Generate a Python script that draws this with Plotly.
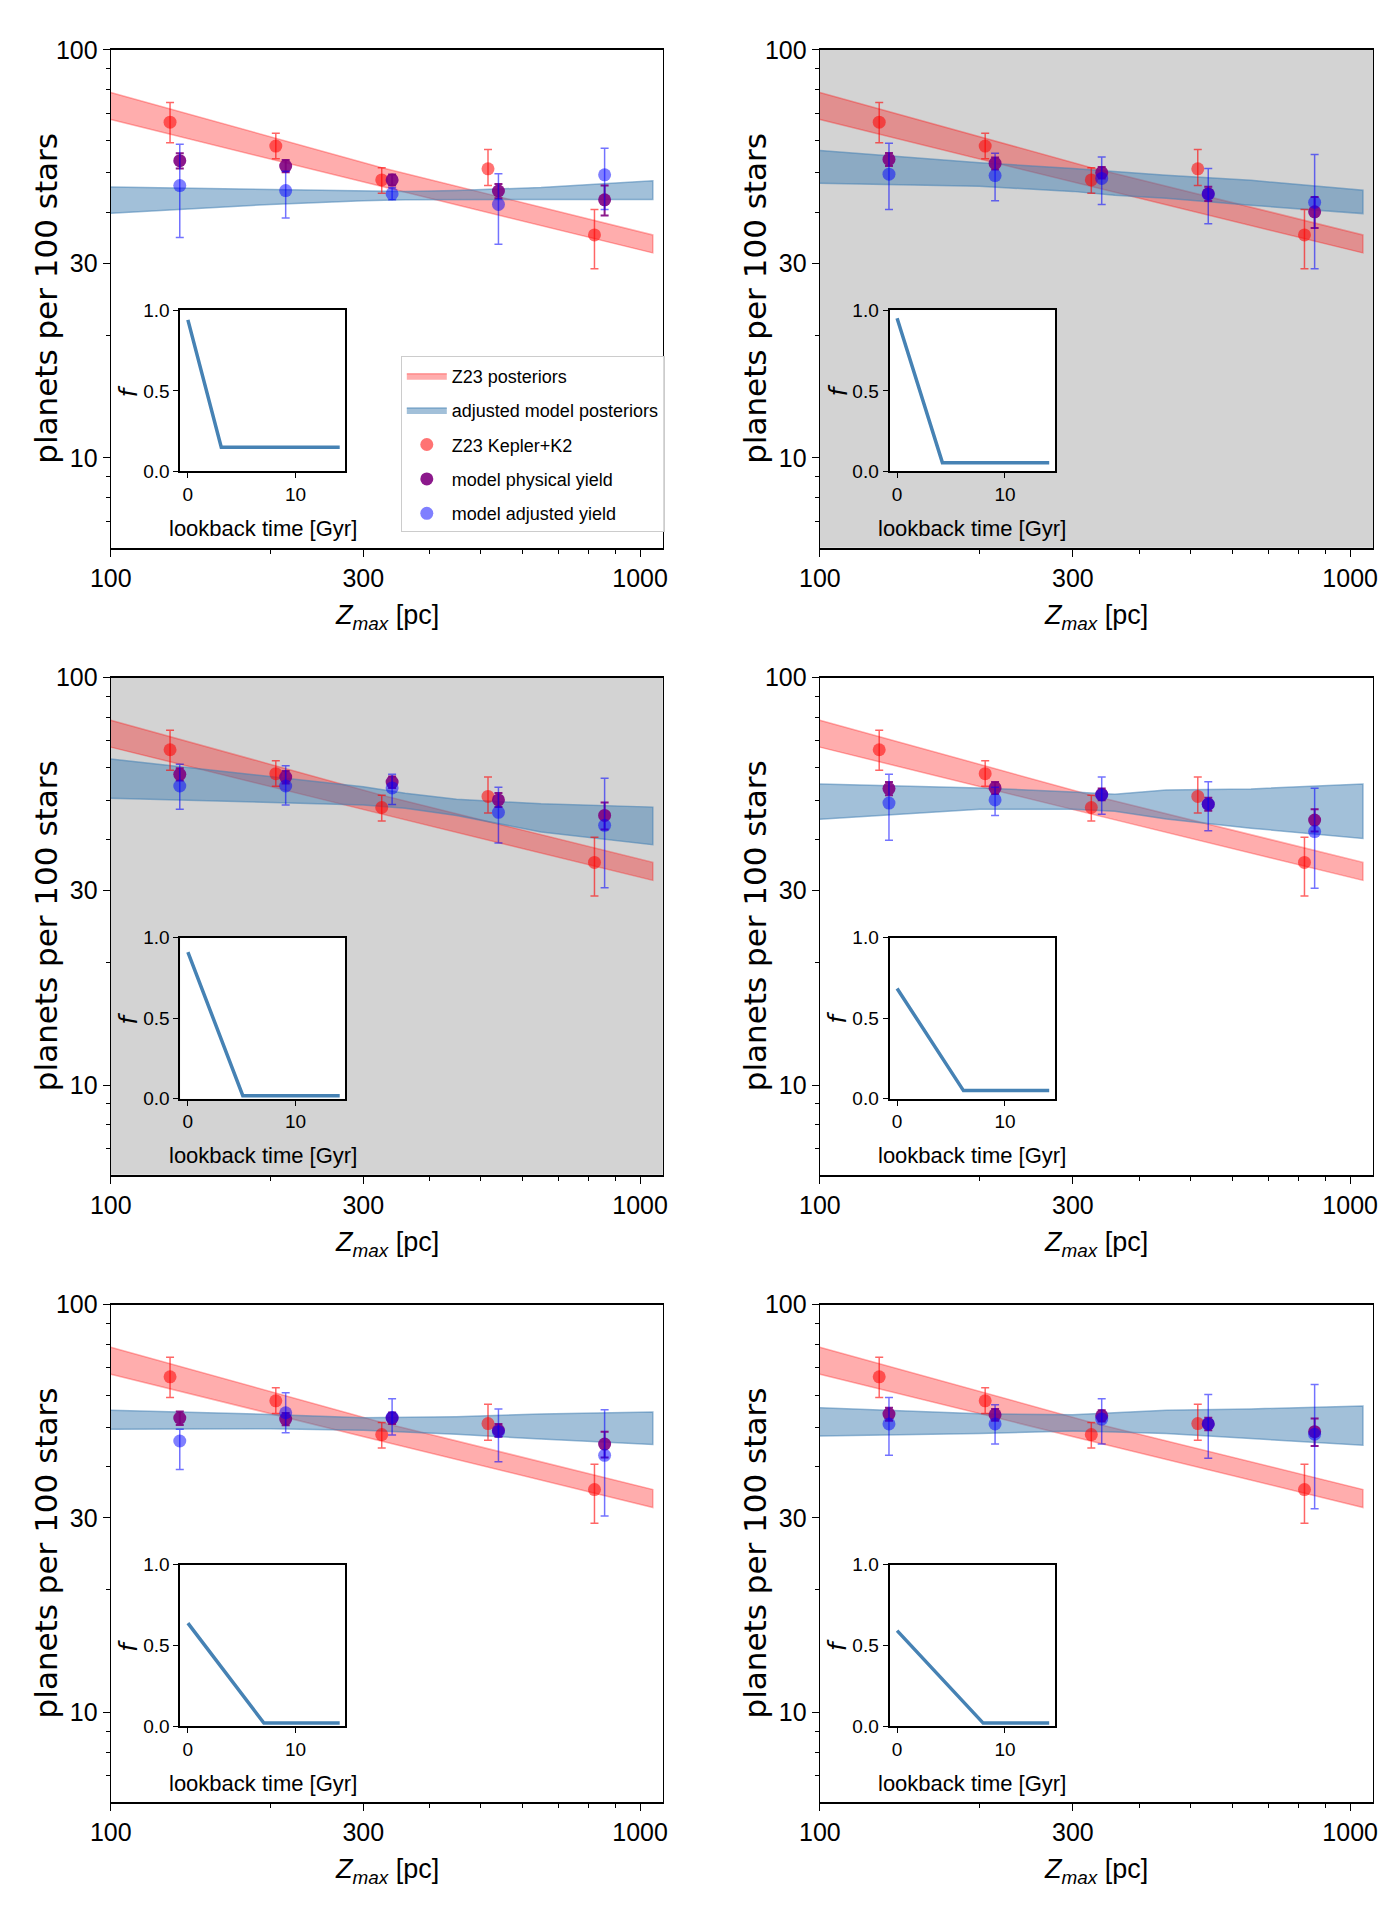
import math
import plotly.graph_objects as go

W, H = 1397, 1922

# ---------------- data ----------------
z_obs = [129.4, 205.0, 325.0, 516.0, 820.0]
z_mod = [135.0, 214.0, 340.0, 540.0, 857.0]
obs_y = [66.5, 58.1, 48.0, 51.1, 35.2]
obs_hi = [74.3, 62.5, 51.4, 57.0, 40.6]
obs_lo = [59.2, 54.1, 44.5, 46.5, 29.1]

z23_band_x = [100, 324, 1057]
z23_band_lo = [67.5, 46.3, 31.8]
z23_band_hi = [78.6, 51.5, 35.2]

adj_band_x = [100, 200, 300, 360, 450, 650, 1057]
adj_band_hi = [
    [46.1, 45.5, 45.1, 45.0, 45.2, 46.0, 47.8],
    [56.7, 52.9, 51.2, 50.3, 49.3, 47.9, 45.3],
    [63.1, 57.2, 54.0, 52.0, 50.3, 49.0, 48.1],
    [54.8, 53.6, 52.4, 51.7, 53.0, 53.3, 54.8],
    [55.1, 53.8, 52.8, 52.9, 53.1, 53.9, 54.5],
    [55.9, 54.0, 53.7, 54.3, 55.1, 55.5, 56.4],
]
adj_band_lo = [
    [39.8, 41.8, 42.7, 42.9, 43.0, 43.0, 43.0],
    [47.1, 46.3, 45.0, 44.0, 43.3, 41.6, 39.7],
    [50.6, 49.4, 48.7, 47.8, 45.9, 41.8, 38.9],
    [44.9, 47.5, 47.5, 47.0, 45.0, 42.7, 40.3],
    [49.5, 49.6, 49.2, 48.8, 48.1, 46.8, 45.4],
    [47.6, 48.3, 49.0, 48.7, 48.3, 46.9, 45.2],
]

phys_y = [
    [53.5, 51.9, 48.0, 45.1, 42.9],
    [53.9, 52.7, 50.0, 44.4, 40.1],
    [57.9, 57.0, 55.4, 50.1, 45.9],
    [53.4, 53.6, 51.7, 48.9, 44.7],
    [52.7, 52.4, 52.7, 49.2, 45.5],
    [53.9, 53.7, 53.4, 51.0, 48.8],
]
phys_err = [
    [2.3, 1.8, 1.5, 1.8, 3.6],
    [2.0, 1.8, 1.6, 1.8, 3.5],
    [2.0, 2.0, 1.8, 2.0, 3.5],
    [2.0, 1.8, 1.7, 1.8, 2.8],
    [2.0, 1.8, 1.7, 1.8, 3.3],
    [2.0, 1.8, 1.7, 1.8, 3.8],
]

adj_y = [
    [46.5, 45.2, 44.4, 41.8, 49.4],
    [49.6, 49.2, 48.4, 44.3, 42.3],
    [54.2, 54.2, 53.6, 46.7, 43.4],
    [49.2, 50.1, 51.5, 48.9, 41.9],
    [46.3, 54.3, 52.9, 48.8, 42.7],
    [51.0, 51.0, 52.4, 51.0, 48.1],
]
adj_hi = [
    [58.7, 50.4, 45.9, 49.7, 57.4],
    [59.0, 55.8, 54.6, 51.2, 55.4],
    [61.3, 60.8, 57.9, 53.8, 56.6],
    [57.9, 53.8, 57.0, 55.5, 53.5],
    [49.5, 60.8, 58.8, 55.5, 55.2],
    [59.2, 56.8, 58.8, 60.2, 63.7],
]
adj_lo = [
    [34.7, 38.7, 42.9, 33.4, 40.6],
    [40.6, 42.7, 41.8, 37.5, 29.1],
    [47.5, 48.7, 48.8, 39.3, 30.5],
    [39.9, 45.9, 46.2, 42.1, 30.4],
    [39.4, 48.5, 47.9, 41.2, 30.3],
    [42.7, 45.5, 45.5, 42.0, 31.6],
]

# inset: f(lookback time)
f_start = [0.94, 0.95, 0.91, 0.684, 0.638, 0.592]
f_knee_t = [3.1, 4.2, 5.1, 6.15, 7.06, 7.98]
f_floor = [0.15, 0.055, 0.018, 0.05, 0.018, 0.018]
t_end = 14.1

grey_panel = [False, True, True, False, False, False]

# ---------------- layout geometry (pixels) ----------------
col_x = [(91.5, 654.0), (814.0, 1377.6)]
row_y = [(36.3, 540.7), (672.3, 1176.0), (1307.6, 1811.7)]

FONT = "Liberation Sans, Arial, sans-serif"
LBL_FONT = "DejaVu Sans, sans-serif"

RED_FILL = "rgba(255,0,0,0.32)"
RED_LINE = "rgba(255,0,0,0.30)"
BLUE_FILL = "rgba(70,130,180,0.5)"
BLUE_LINE = "rgba(70,130,180,0.55)"

fig = go.Figure()
shapes = []
annotations = []
layout = {}


def px_x(px):
    return px / W


def px_y(py):
    return 1 - py / H


for i in range(6):
    r, c = divmod(i, 2)
    x0, x1 = col_x[c]
    y0, y1 = row_y[r]
    ax = i + 1
    xa = f"x{ax}" if ax > 1 else "x"
    ya = f"y{ax}" if ax > 1 else "y"
    leg = (i == 0)

    # main axes
    layout[f"xaxis{ax}"] = dict(
        domain=[px_x(x0), px_x(x1)], anchor=ya, type="log",
        range=[2, math.log10(1104)],
        tickvals=[100, 300, 1000], ticktext=["100", "300", "1000"],
        ticks="outside", ticklen=7, tickwidth=1.3, tickcolor="black",
        minor=dict(tickvals=[200, 400, 500, 600, 700, 800, 900], ticks="outside",
                   ticklen=4, tickwidth=1, tickcolor="black"),
        showline=True, linecolor="black", linewidth=1.8, mirror=True,
        showgrid=False, zeroline=False,
        tickfont=dict(size=25, color="black", family=FONT),
    )
    layout[f"yaxis{ax}"] = dict(
        domain=[px_y(y1), px_y(y0)], anchor=xa, type="log",
        range=[math.log10(6.03), 2],
        tickvals=[10, 30, 100], ticktext=["10", "30", "100"],
        ticks="outside", ticklen=7, tickwidth=1.3, tickcolor="black",
        minor=dict(tickvals=[7, 8, 9, 20, 40, 50, 60, 70, 80, 90], ticks="outside",
                   ticklen=4, tickwidth=1, tickcolor="black"),
        showline=True, linecolor="black", linewidth=1.4, mirror=True,
        showgrid=False, zeroline=False,
        tickfont=dict(size=25, color="black", family=FONT),
    )
    if grey_panel[i]:
        shapes.append(dict(type="rect", xref=f"{xa} domain", yref=f"{ya} domain",
                           x0=0, x1=1, y0=0, y1=1, fillcolor="#d3d3d3",
                           line=dict(width=0), layer="below"))

    # Z23 posterior band
    fig.add_trace(go.Scatter(
        x=z23_band_x + z23_band_x[::-1], y=z23_band_hi + z23_band_lo[::-1],
        fill="toself", mode="lines", fillcolor=RED_FILL,
        line=dict(color=RED_LINE, width=1.5),
        name="Z23 posteriors", legendgroup="g1", showlegend=leg,
        xaxis=xa, yaxis=ya, hoverinfo="skip"))
    # adjusted model band
    fig.add_trace(go.Scatter(
        x=adj_band_x + adj_band_x[::-1], y=adj_band_hi[i] + adj_band_lo[i][::-1],
        fill="toself", mode="lines", fillcolor=BLUE_FILL,
        line=dict(color=BLUE_LINE, width=1.5),
        name="adjusted model posteriors", legendgroup="g2", showlegend=leg,
        xaxis=xa, yaxis=ya, hoverinfo="skip"))
    # Z23 Kepler+K2
    fig.add_trace(go.Scatter(
        x=z_obs, y=obs_y, mode="markers",
        marker=dict(color="rgba(255,0,0,0.55)", size=13, line=dict(width=0)),
        error_y=dict(type="data", symmetric=False,
                     array=[h - v for h, v in zip(obs_hi, obs_y)],
                     arrayminus=[v - l for v, l in zip(obs_y, obs_lo)],
                     color="rgba(255,0,0,0.6)", thickness=1.5, width=4),
        name="Z23 Kepler+K2", legendgroup="g3", showlegend=leg,
        xaxis=xa, yaxis=ya))
    # model physical yield
    fig.add_trace(go.Scatter(
        x=z_mod, y=phys_y[i], mode="markers",
        marker=dict(color="rgba(128,0,128,0.9)", size=13, line=dict(width=0)),
        error_y=dict(type="data", array=phys_err[i],
                     color="rgba(128,0,128,0.9)", thickness=2, width=4),
        name="model physical yield", legendgroup="g4", showlegend=leg,
        xaxis=xa, yaxis=ya))
    # model adjusted yield
    fig.add_trace(go.Scatter(
        x=z_mod, y=adj_y[i], mode="markers",
        marker=dict(color="rgba(0,0,255,0.5)", size=13, line=dict(width=0)),
        error_y=dict(type="data", symmetric=False,
                     array=[h - v for h, v in zip(adj_hi[i], adj_y[i])],
                     arrayminus=[v - l for v, l in zip(adj_y[i], adj_lo[i])],
                     color="rgba(0,0,255,0.55)", thickness=1.5, width=4),
        name="model adjusted yield", legendgroup="g5", showlegend=leg,
        xaxis=xa, yaxis=ya))

    # axis titles
    annotations.append(dict(
        text="planets per 100 stars", textangle=-90, showarrow=False,
        xref="paper", yref="paper", x=px_x(x0 - 66), y=px_y((y0 + y1) / 2),
        xanchor="center", yanchor="middle",
        font=dict(size=31, color="black", family=LBL_FONT)))
    annotations.append(dict(
        text="<i>Z</i><sub><i>max</i></sub> [pc]", showarrow=False,
        xref="paper", yref="paper", x=px_x((x0 + x1) / 2), y=px_y(y1 + 70),
        xanchor="center", yanchor="middle",
        font=dict(size=27, color="black", family=FONT)))

    # inset axes
    wpx = x1 - x0
    hpx = y1 - y0
    ix0 = x0 + 0.126 * wpx
    ix1 = x0 + 0.425 * wpx
    iy0 = y0 + 0.523 * hpx
    iy1 = y0 + 0.847 * hpx
    ia = ax + 6
    ixa = f"x{ia}"
    iya = f"y{ia}"
    layout[f"xaxis{ia}"] = dict(
        domain=[px_x(ix0), px_x(ix1)], anchor=iya, range=[-0.7, 14.63],
        tickvals=[0, 10], ticktext=["0", "10"],
        ticks="outside", ticklen=5, tickwidth=1.3, tickcolor="black",
        showline=True, linecolor="black", linewidth=2, mirror=True,
        showgrid=False, zeroline=False,
        tickfont=dict(size=19, color="black", family=FONT))
    layout[f"yaxis{ia}"] = dict(
        domain=[px_y(iy1), px_y(iy0)], anchor=ixa, range=[0, 1],
        tickvals=[0, 0.5, 1.0], ticktext=["0.0", "0.5", "1.0"],
        ticks="outside", ticklen=5, tickwidth=1.3, tickcolor="black",
        showline=True, linecolor="black", linewidth=2, mirror=True,
        showgrid=False, zeroline=False,
        tickfont=dict(size=19, color="black", family=FONT))
    shapes.append(dict(type="rect", xref=f"{ixa} domain", yref=f"{iya} domain",
                       x0=0, x1=1, y0=0, y1=1, fillcolor="white",
                       line=dict(width=0), layer="below"))
    fig.add_trace(go.Scatter(
        x=[0, f_knee_t[i], t_end], y=[f_start[i], f_floor[i], f_floor[i]],
        mode="lines", line=dict(color="#4682b4", width=3.5),
        showlegend=False, xaxis=ixa, yaxis=iya, hoverinfo="skip"))
    annotations.append(dict(
        text="lookback time [Gyr]", showarrow=False,
        xref="paper", yref="paper", x=px_x((ix0 + ix1) / 2), y=px_y(iy1 + 58),
        xanchor="center", yanchor="middle",
        font=dict(size=22, color="black", family=FONT)))
    annotations.append(dict(
        text="f", textangle=-90, showarrow=False,
        xref="paper", yref="paper", x=px_x(ix0 - 52), y=px_y((iy0 + iy1) / 2),
        xanchor="center", yanchor="middle",
        font=dict(size=24, color="black", family=LBL_FONT, style="italic")))

fig.update_layout(
    width=W, height=H,
    margin=dict(l=0, r=0, t=0, b=0),
    paper_bgcolor="white", plot_bgcolor="white",
    font=dict(family=FONT, color="black"),
    shapes=shapes, annotations=annotations,
    showlegend=True,
    legend=dict(
        x=px_x(387), y=px_y(347), xanchor="left", yanchor="top",
        bgcolor="rgba(255,255,255,0.85)", bordercolor="#cccccc", borderwidth=1,
        font=dict(size=18, color="black", family=FONT),
        tracegroupgap=8, itemwidth=40,
    ),
    **layout,
)

fig.write_html("out.html")
